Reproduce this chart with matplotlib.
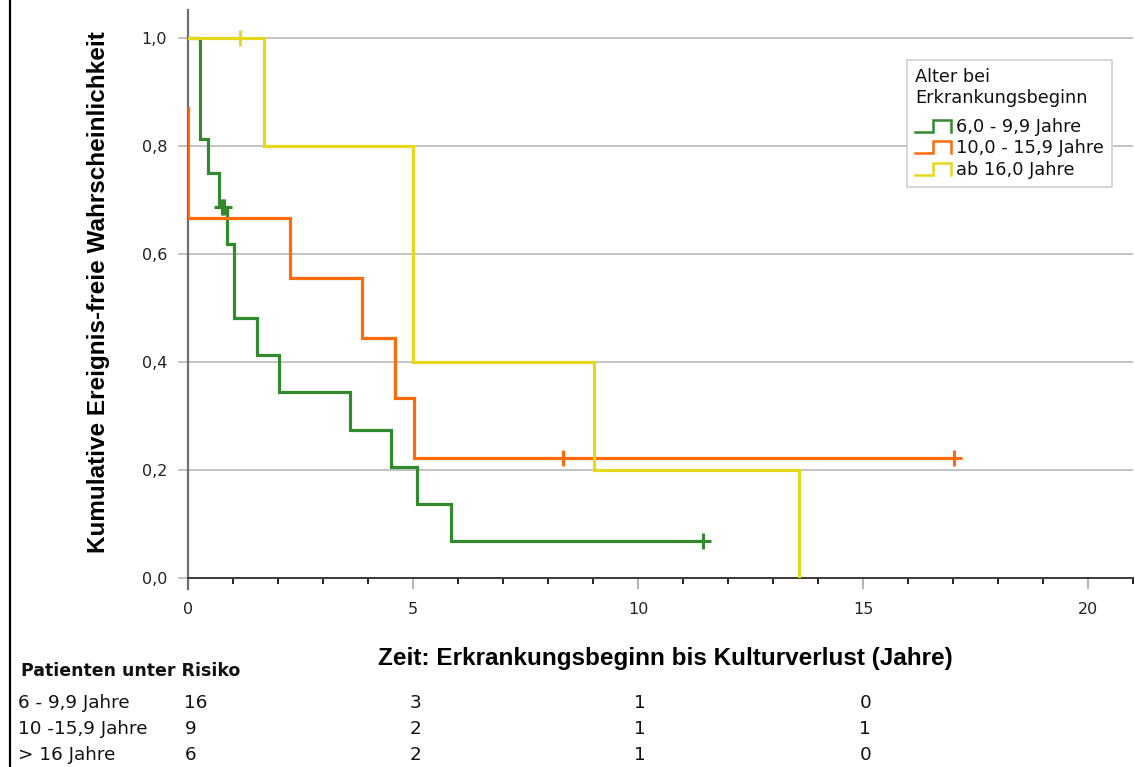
import matplotlib
matplotlib.use("Agg")
import matplotlib.pyplot as plt
from matplotlib.lines import Line2D
from matplotlib.legend_handler import HandlerBase
from matplotlib.ticker import FixedLocator, FuncFormatter, MultipleLocator
import matplotlib.transforms as mtransforms

# Kaplan-Meier step data per age group (time in years, event-free probability)
green_t = [0, 0.27, 0.44, 0.69, 0.87, 1.02, 1.53, 2.02, 3.60, 4.51, 5.09, 5.84, 11.44]
green_s = [1.0, 0.8125, 0.75, 0.6875, 0.61875, 0.48125, 0.4125, 0.34375, 0.275, 0.20625, 0.1375, 0.06875, 0.06875]
green_cens_t = [0.75, 0.81, 11.44]
green_cens_s = [0.6875, 0.6875, 0.06875]

orange_t = [0, 0, 2.27, 3.87, 4.60, 5.02, 17.02]
orange_s = [0.87, 0.6667, 0.5556, 0.4444, 0.3333, 0.2222, 0.2222]
orange_cens_t = [8.33, 17.02]
orange_cens_s = [0.2222, 0.2222]

yellow_t = [0, 1.69, 5.00, 9.02, 13.58]
yellow_s = [1.0, 0.8, 0.4, 0.2, 0.0]
yellow_cens_t = [1.16]
yellow_cens_s = [1.0]

series_labels = ["6,0 - 9,9 Jahre", "10,0 - 15,9 Jahre", "ab 16,0 Jahre"]
series_colors = ["#338a2e", "#ff6a0a", "#e6d81a"]

# Numbers at risk table
risk_times = [0, 5, 10, 15]
risk_rows = ["6 - 9,9 Jahre", "10 -15,9 Jahre", "> 16 Jahre"]
risk_green = [16, 3, 1, 0]
risk_orange = [9, 2, 1, 1]
risk_yellow = [6, 2, 1, 0]

x_ticks = [0, 5, 10, 15, 20]
y_ticks = [0.0, 0.2, 0.4, 0.6, 0.8, 1.0]

plt.rcParams["font.family"] = ["DejaVu Sans"]

fig = plt.figure(figsize=(11.35, 7.67), dpi=100)
ax = fig.add_axes([188 / 1135, 189 / 767, 945 / 1135, 568 / 767])
ax.set_xlim(0, 21.0)
ax.set_ylim(0, 1.052)

# gridlines
ax.set_yticks(y_ticks)
ax.yaxis.grid(True, color="#c4c4c4", lw=1.4)
ax.set_axisbelow(True)

lw = 2.3
series = [
    (green_t, green_s, green_cens_t, green_cens_s),
    (orange_t, orange_s, orange_cens_t, orange_cens_s),
    (yellow_t, yellow_s, yellow_cens_t, yellow_cens_s),
]
for (t, s, ct, cs), col in zip(series, series_colors):
    ax.step(t, s, where="post", color=col, lw=lw, solid_joinstyle="miter", zorder=3)
    ax.plot(ct, cs, ls="none", marker="+", ms=11, mew=2.2, color=col, zorder=4)

# spines
for side in ["top", "right"]:
    ax.spines[side].set_visible(False)
ax.spines["left"].set_color("#6e6e6e")
ax.spines["left"].set_linewidth(1.6)
ax.spines["bottom"].set_color("#3a3a3a")
ax.spines["bottom"].set_linewidth(1.4)
ax.spines["left"].set_bounds(-0.02, 1.052)

# ticks
ax.xaxis.set_major_locator(FixedLocator(x_ticks))
ax.xaxis.set_minor_locator(MultipleLocator(1))
ax.tick_params(axis="x", which="major", length=8, width=1.4, color="#b4b4b4",
               pad=9, labelsize=11.5, labelcolor="#222222")
ax.tick_params(axis="x", which="minor", length=4, width=1.4, color="#222222")
ax.tick_params(axis="y", which="major", length=7, width=1.4, color="#c4c4c4",
               pad=8, labelsize=11.5, labelcolor="#222222")
ax.yaxis.set_major_formatter(FuncFormatter(lambda v, p: f"{v:.1f}".replace(".", ",")))

ax.set_ylabel("Kumulative Ereignis-freie Wahrscheinlichkeit",
              fontfamily="Liberation Sans", fontweight="bold", fontsize=17.5)
ax.yaxis.set_label_coords(-(188 - 110) / 945, (578 - 292) / 568)
ax.set_xlabel("Zeit: Erkrankungsbeginn bis Kulturverlust (Jahre)",
              fontfamily="Liberation Sans", fontweight="bold", fontsize=17.5)
ax.xaxis.set_label_coords((665 - 188) / 945, -(659 - 578) / 568)
ax.xaxis.label.set_va("center")


class StepHandler(HandlerBase):
    def create_artists(self, legend, orig_handle, xdescent, ydescent, width, height,
                       fontsize, trans):
        x0 = -xdescent
        y0 = -ydescent
        xs = [x0, x0 + 0.5 * width, x0 + 0.5 * width, x0 + width, x0 + width]
        ys = [y0 + 0.05 * height, y0 + 0.05 * height, y0 + 0.95 * height,
              y0 + 0.95 * height, y0 + 0.05 * height]
        line = Line2D(xs, ys, color=orig_handle.get_color(), lw=1.8,
                      solid_joinstyle="miter", transform=trans)
        return [line]


handles = [Line2D([], [], color=c) for c in series_colors]
leg = ax.legend(handles, series_labels, title="Alter bei\nErkrankungsbeginn",
                loc="upper left", bbox_to_anchor=((907 - 188) / 945, (578 - 60) / 568),
                borderaxespad=0, fontsize=12.8, title_fontsize=12.8,
                handler_map={Line2D: StepHandler()}, handlelength=2.0, handleheight=0.75,
                handletextpad=0.3, labelspacing=0.2, borderpad=0.45,
                fancybox=False, framealpha=1, edgecolor="#cfcfcf", alignment="left")
leg._legend_box.sep = 8
leg.get_frame().set_linewidth(1.2)
for txt in leg.get_texts():
    txt.set_color("#111111")
leg.get_title().set_color("#111111")

# left border line
fig.add_artist(Line2D([10 / 1135, 10 / 1135], [0, 1], transform=fig.transFigure,
                      color="black", lw=1.6))

# numbers at risk
fig.text(21 / 1135, 1 - 671 / 767, "Patienten unter Risiko", fontsize=12.5,
         fontweight="bold", va="center", ha="left", color="#111111")
blend = mtransforms.blended_transform_factory(ax.transData, fig.transFigure)
row_y = [703, 729, 755]
for label, counts, yp in zip(risk_rows, [risk_green, risk_orange, risk_yellow], row_y):
    fig.text(18 / 1135, 1 - yp / 767, label, fontsize=13.2, va="center", ha="left",
             color="#111111")
    for tt, n in zip(risk_times, counts):
        ax.text(tt - 0.08, 1 - yp / 767, str(n), transform=blend, fontsize=13.2,
                va="center", ha="left", color="#111111", clip_on=False)

fig.savefig("out.png", dpi=100)
